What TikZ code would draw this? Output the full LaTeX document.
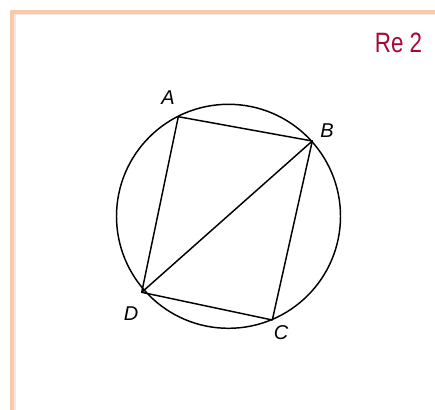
\documentclass[tikz,border=0pt]{standalone}
\usepackage{fontspec}
\setsansfont{Liberation Sans}
\usetikzlibrary{positioning}
\definecolor{frameorange}{RGB}{252,201,166}
\definecolor{recrimson}{RGB}{165,10,55}

\begin{document}
\begin{tikzpicture}[
    x=0.75pt,
    y=-0.75pt,
    edge/.style={draw, line width=1.1pt, line join=round},
    vlabel/.style={font=\sffamily\itshape\fontsize{15}{17}\selectfont, inner sep=0pt},
    frame/.style={draw=frameorange, line width=2.4pt},
    shade/.style={draw=black!8, line width=1.5pt}
]
\useasboundingbox (0,0) rectangle (435,410);

\draw[shade] (14.5,410) |- (435,14.5);
\draw[frame] (12,410) |- (435,12);

\node[font=\sffamily\fontsize{21}{24}\selectfont, text=recrimson, inner sep=0pt, xscale=0.8] (title) at (398.5,43) {Re 2};

\coordinate (O) at (228.5,216.3);
\coordinate (A) at (178.3,116.7);
\coordinate (B) at (312.3,141);
\coordinate (C) at (272.3,320);
\coordinate (D) at (141.7,292.3);

\draw[edge] (O) circle[radius=112];
\draw[edge] (A) -- (B) -- (C) -- (D) -- cycle;
\draw[edge] (B) -- (D);

\node[vlabel] (lA) at (168,98) {A};
\node[vlabel] (lB) at (327,131) {B};
\node[vlabel] (lC) at (281,333) {C};
\node[vlabel] (lD) at (131,314) {D};

\end{tikzpicture}
\end{document}
